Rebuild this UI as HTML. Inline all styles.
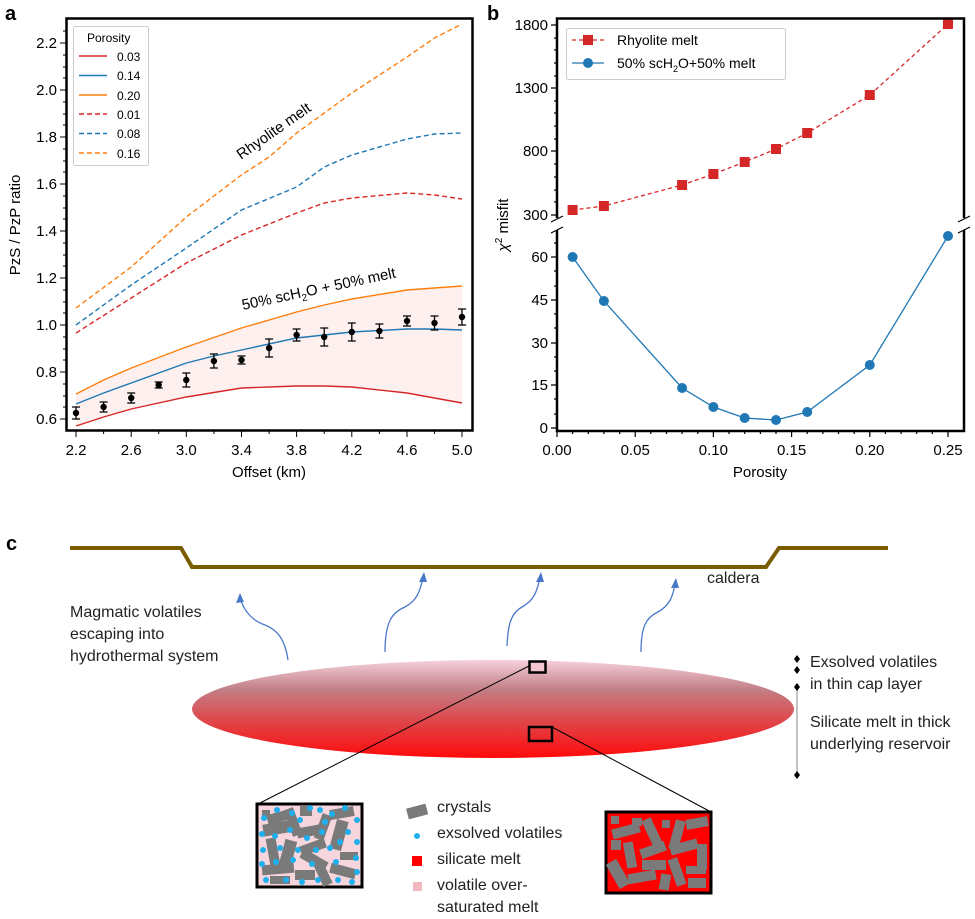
<!DOCTYPE html>
<html><head><meta charset="utf-8"><style>
body{margin:0;background:#fff}
svg{display:block;font-family:"Liberation Sans",sans-serif}
</style></head><body>
<svg width="975" height="919" viewBox="0 0 975 919" xmlns="http://www.w3.org/2000/svg">
<!-- Panel labels -->
<text x="5" y="20" font-size="20" font-weight="bold">a</text>
<text x="487" y="20" font-size="20" font-weight="bold">b</text>
<text x="6" y="550" font-size="20" font-weight="bold">c</text>

<!-- ===== Panel a ===== -->
<polygon fill="#fdf0ee" points="76,394 103.6,380 131.2,368 186.3,347 241.5,328 296.6,312 324.2,305 351.8,299 407,290 462,286 462,403 407,393 351.8,387 324.2,386 296.6,386 241.5,388 186.3,397 131.2,409 103.6,417 76,426"/>
<g fill="none" stroke-width="1.4">
<polyline stroke="#ff7f0e" stroke-dasharray="5,3" points="76,308 131.2,267 186.3,217 241.5,175 269.1,157 296.6,133 324.2,113 351.8,93 407,57 434.5,38 462,24"/>
<polyline stroke="#1f77b4" stroke-dasharray="5,3" points="76,325 131.2,285 186.3,248 241.5,210 296.6,187 324.2,167 351.8,155 407,139 434.5,134 462,133"/>
<polyline stroke="#d62728" stroke-dasharray="5,3" points="76,333 131.2,298 186.3,263 241.5,235 296.6,213 324.2,203 351.8,198 407,193 434.5,195 462,199"/>
<polyline stroke="#ff7f0e" points="76,394 103.6,380 131.2,368 186.3,347 241.5,328 296.6,312 324.2,305 351.8,299 407,290 462,286"/>
<polyline stroke="#1f77b4" points="76,404 103.6,393 131.2,383 186.3,363 213.9,356 241.5,350 296.6,338 324.2,335 351.8,332 407,329 434.5,329 462,330"/>
<polyline stroke="#d62728" points="76,426 103.6,417 131.2,409 186.3,397 241.5,388 296.6,386 324.2,386 351.8,387 407,393 462,403"/>
</g>
<g stroke="#000" stroke-width="1.3" fill="none">
<path d="M76,407v12M72,407h8M72,419h8 M103.6,402v10M99.6,402h8M99.6,412h8 M131.2,393v10M127.2,393h8M127.2,403h8 M158.7,382v6M154.7,382h8M154.7,388h8 M186.3,373v14M182.3,373h8M182.3,387h8 M213.9,354v14M209.9,354h8M209.9,368h8 M241.5,356v8M237.5,356h8M237.5,364h8 M269.1,339v18M265.1,339h8M265.1,357h8 M296.6,329v12M292.6,329h8M292.6,341h8 M324.2,328v18M320.2,328h8M320.2,346h8 M351.8,323v18M347.8,323h8M347.8,341h8 M379.4,324v14M375.4,324h8M375.4,338h8 M407,316v10M403,316h8M403,326h8 M434.5,316v14M430.5,316h8M430.5,330h8 M462,309v16M458,309h8M458,325h8"/>
</g>
<g fill="#000">
<circle cx="76" cy="413" r="3.2"/><circle cx="103.6" cy="407" r="3.2"/><circle cx="131.2" cy="398" r="3.2"/><circle cx="158.7" cy="385" r="3.2"/><circle cx="186.3" cy="380" r="3.2"/><circle cx="213.9" cy="361" r="3.2"/><circle cx="241.5" cy="360" r="3.2"/><circle cx="269.1" cy="348" r="3.2"/><circle cx="296.6" cy="335" r="3.2"/><circle cx="324.2" cy="337" r="3.2"/><circle cx="351.8" cy="332" r="3.2"/><circle cx="379.4" cy="331" r="3.2"/><circle cx="407" cy="321" r="3.2"/><circle cx="434.5" cy="323" r="3.2"/><circle cx="462" cy="317" r="3.2"/>
</g>
<text x="0" y="0" font-size="15" transform="translate(241,160) rotate(-35)">Rhyolite melt</text>
<text x="0" y="0" font-size="15" transform="translate(243,310) rotate(-12)">50% scH<tspan font-size="10" dy="4">2</tspan><tspan dy="-4">O + 50% melt</tspan></text>
<!-- legend a -->
<rect x="73.5" y="26.5" width="75" height="139" rx="2" fill="#fff" stroke="#ccc"/>
<text x="87" y="42" font-size="12">Porosity</text>
<g stroke-width="1.4">
<line x1="79" y1="56" x2="107" y2="56" stroke="#d62728"/>
<line x1="79" y1="75.5" x2="107" y2="75.5" stroke="#1f77b4"/>
<line x1="79" y1="95" x2="107" y2="95" stroke="#ff7f0e"/>
<line x1="79" y1="114" x2="107" y2="114" stroke="#d62728" stroke-dasharray="5,3"/>
<line x1="79" y1="133.5" x2="107" y2="133.5" stroke="#1f77b4" stroke-dasharray="5,3"/>
<line x1="79" y1="153" x2="107" y2="153" stroke="#ff7f0e" stroke-dasharray="5,3"/>
</g>
<g font-size="12">
<text x="117" y="61">0.03</text><text x="117" y="80">0.14</text><text x="117" y="100">0.20</text><text x="117" y="119">0.01</text><text x="117" y="138">0.08</text><text x="117" y="158">0.16</text>
</g>
<rect x="66.5" y="18.5" width="406" height="412" fill="none" stroke="#000" stroke-width="2.5"/>
<g stroke="#000" stroke-width="1">
<path d="M66,43h-6M66,90h-6M66,137h-6M66,184h-6M66,231h-6M66,278h-6M66,325h-6M66,372h-6M66,419h-6"/>
<path d="M66,31h-3M66,55h-3M66,67h-3M66,78h-3M66,102h-3M66,114h-3M66,125h-3M66,149h-3M66,161h-3M66,172h-3M66,196h-3M66,208h-3M66,219h-3M66,243h-3M66,255h-3M66,266h-3M66,290h-3M66,302h-3M66,313h-3M66,337h-3M66,349h-3M66,360h-3M66,384h-3M66,396h-3M66,407h-3"/>
<path d="M76,431v6M131.2,431v6M186.3,431v6M241.5,431v6M296.6,431v6M351.8,431v6M407,431v6M462,431v6"/>
<path d="M103.6,431v3M158.7,431v3M213.9,431v3M269.1,431v3M324.2,431v3M379.4,431v3M434.5,431v3"/>
</g>
<g font-size="15" text-anchor="end">
<text x="57" y="48">2.2</text><text x="57" y="95">2.0</text><text x="57" y="142">1.8</text><text x="57" y="189">1.6</text><text x="57" y="236">1.4</text><text x="57" y="283">1.2</text><text x="57" y="330">1.0</text><text x="57" y="377">0.8</text><text x="57" y="424">0.6</text>
</g>
<g font-size="15" text-anchor="middle">
<text x="76" y="455">2.2</text><text x="131.2" y="455">2.6</text><text x="186.3" y="455">3.0</text><text x="241.5" y="455">3.4</text><text x="296.6" y="455">3.8</text><text x="351.8" y="455">4.2</text><text x="407" y="455">4.6</text><text x="462" y="455">5.0</text>
<text x="269" y="477">Offset (km)</text>
<text transform="translate(20,225) rotate(-90)">PzS / PzP ratio</text>
</g>

<!-- ===== Panel b ===== -->
<polyline fill="none" stroke="#d62728" stroke-width="1.3" stroke-dasharray="4,3" points="572.6,210 603.9,206 682.1,185 713.4,174 744.7,162 776,149 807.2,133 869.8,95 948,24"/>
<g fill="#d62728">
<rect x="567.6" y="205" width="10" height="10"/><rect x="598.9" y="201" width="10" height="10"/><rect x="677.1" y="180" width="10" height="10"/><rect x="708.4" y="169" width="10" height="10"/><rect x="739.7" y="157" width="10" height="10"/><rect x="771" y="144" width="10" height="10"/><rect x="802.2" y="128" width="10" height="10"/><rect x="864.8" y="90" width="10" height="10"/><rect x="943" y="19" width="10" height="10"/>
</g>
<polyline fill="none" stroke="#1f77b4" stroke-width="1.3" points="572.6,257 603.9,301 682.1,388 713.4,407 744.7,418 776,420 807.2,412 869.8,365 948,236"/>
<g fill="#1f77b4">
<circle cx="572.6" cy="257" r="5"/><circle cx="603.9" cy="301" r="5"/><circle cx="682.1" cy="388" r="5"/><circle cx="713.4" cy="407" r="5"/><circle cx="744.7" cy="418" r="5"/><circle cx="776" cy="420" r="5"/><circle cx="807.2" cy="412" r="5"/><circle cx="869.8" cy="365" r="5"/><circle cx="948" cy="236" r="5"/>
</g>
<rect x="566.5" y="28.5" width="219" height="51" rx="2" fill="#fff" stroke="#ccc"/>
<line x1="572" y1="40" x2="604" y2="40" stroke="#d62728" stroke-width="1.3" stroke-dasharray="4,3"/>
<rect x="583" y="35" width="10" height="10" fill="#d62728"/>
<line x1="572" y1="63" x2="604" y2="63" stroke="#1f77b4" stroke-width="1.3"/>
<circle cx="588" cy="63" r="5" fill="#1f77b4"/>
<text x="617" y="45" font-size="14">Rhyolite melt</text>
<text x="617" y="68" font-size="14">50% scH<tspan font-size="9" dy="4">2</tspan><tspan dy="-4">O+50% melt</tspan></text>
<g stroke="#000" stroke-width="2.5" fill="none">
<path d="M557,218V18.5H964V218M557,230V431H964V230"/>
</g>
<g stroke="#000" stroke-width="1.2">
<path d="M551,222l12,-6M551,233l12,-6M958,222l12,-6M958,233l12,-6"/>
<path d="M557,25h-6M557,88h-6M557,151h-6M557,215h-6M557,257h-6M557,300h-6M557,343h-6M557,385h-6M557,428h-6"/>
<path d="M557,38h-3M557,50h-3M557,63h-3M557,76h-3M557,101h-3M557,113h-3M557,126h-3M557,139h-3M557,164h-3M557,177h-3M557,190h-3M557,202h-3M557,243h-3M557,271h-3M557,286h-3M557,314h-3M557,328h-3M557,357h-3M557,371h-3M557,399h-3M557,414h-3"/>
<path d="M557,431v6M635.2,431v6M713.4,431v6M791.6,431v6M869.8,431v6M948,431v6"/>
<path d="M572.6,431v3M588.3,431v3M603.9,431v3M619.6,431v3M650.8,431v3M666.5,431v3M682.1,431v3M697.8,431v3M729,431v3M744.7,431v3M760.4,431v3M776,431v3M807.2,431v3M822.9,431v3M838.5,431v3M854.2,431v3M885.4,431v3M901.1,431v3M916.7,431v3M932.4,431v3"/>
</g>
<g font-size="15" text-anchor="end">
<text x="548" y="30">1800</text><text x="548" y="93">1300</text><text x="548" y="156">800</text><text x="548" y="220">300</text>
<text x="548" y="262">60</text><text x="548" y="305">45</text><text x="548" y="348">30</text><text x="548" y="390">15</text><text x="548" y="433">0</text>
</g>
<g font-size="15" text-anchor="middle">
<text x="557" y="455">0.00</text><text x="635.2" y="455">0.05</text><text x="713.4" y="455">0.10</text><text x="791.6" y="455">0.15</text><text x="869.8" y="455">0.20</text><text x="948" y="455">0.25</text>
<text x="760" y="477">Porosity</text>
<text transform="translate(508,225) rotate(-90)"><tspan font-style="italic">χ</tspan><tspan font-size="10" dy="-6">2</tspan><tspan dy="6"> misfit</tspan></text>
</g>

<!-- ===== Panel c ===== -->
<defs>
<linearGradient id="g" x1="0" y1="0" x2="0" y2="1">
<stop offset="0" stop-color="#f6d0dc"/>
<stop offset="0.3" stop-color="#c27f86"/>
<stop offset="0.6" stop-color="#dd4a4e"/>
<stop offset="1" stop-color="#ff0a0a"/>
</linearGradient>
</defs>
<polyline fill="none" stroke="#7a5c00" stroke-width="4" points="70,548 181,548 192,567 766,567 779,548 888,548"/>
<text x="707" y="583" font-size="16" fill="#222">caldera</text>
<g font-size="16" fill="#222">
<text x="70" y="617">Magmatic volatiles</text>
<text x="70" y="639">escaping into</text>
<text x="70" y="661">hydrothermal system</text>
<text x="810" y="667">Exsolved volatiles</text>
<text x="810" y="689">in thin cap layer</text>
<text x="810" y="727">Silicate melt in thick</text>
<text x="810" y="749">underlying reservoir</text>
</g>
<g fill="none" stroke="#4a78c8" stroke-width="1.3">
<path d="M288,660 C285,640 278,630 265,625 C250,620 243,608 240,598"/>
<path d="M385,652 C385,620 393,612 405,607 C418,600 420,590 423,578"/>
<path d="M507,646 C508,620 513,612 522,607 C535,600 537,590 540,578"/>
<path d="M641,652 C641,625 647,618 656,613 C670,606 673,596 675,584"/>
</g>
<g fill="#4a78c8">
<path d="M240,593 l-4,10 l8,-1z"/><path d="M424,572 l-5,10 l8,0z"/><path d="M541,572 l-5,10 l8,0z"/><path d="M676,578 l-5,10 l8,0z"/>
</g>
<ellipse cx="493" cy="709" rx="301" ry="49" fill="url(#g)"/>
<g stroke="#999" stroke-width="1.2"><line x1="797" y1="687" x2="797" y2="775"/></g>
<g fill="#000"><path d="M797,655l3,4l-3,4l-3,-4z M797,666l3,4l-3,4l-3,-4z M797,683l3,4l-3,4l-3,-4z M797,771l3,4l-3,4l-3,-4z"/></g>
<g stroke="#000" stroke-width="1"><line x1="529" y1="666" x2="258" y2="804"/><line x1="552" y1="727" x2="711" y2="812"/></g>
<rect x="529.5" y="661.5" width="16" height="11" fill="#f3c8d2" stroke="#000" stroke-width="2.5"/>
<rect x="529" y="727" width="23" height="14" fill="none" stroke="#000" stroke-width="2.5"/>
<!-- left inset -->
<rect x="257" y="804" width="105" height="83" fill="#f6d6dc" stroke="#000" stroke-width="3"/>
<g fill="#7a7a7a">
<rect x="262" y="810" width="8" height="6"/>
<rect x="267" y="812" width="24" height="10" transform="rotate(-15 279 817)"/>
<rect x="263" y="822" width="32" height="12" transform="rotate(-10 279 828)"/>
<rect x="288" y="808" width="10" height="28" transform="rotate(-20 293 822)"/>
<rect x="300" y="806" width="12" height="10"/>
<rect x="318" y="814" width="10" height="26" transform="rotate(20 323 827)"/>
<rect x="330" y="808" width="24" height="10" transform="rotate(-10 342 813)"/>
<rect x="333" y="820" width="12" height="30" transform="rotate(15 339 835)"/>
<rect x="297" y="826" width="28" height="10" transform="rotate(-10 311 831)"/>
<rect x="268" y="838" width="10" height="28" transform="rotate(-10 273 852)"/>
<rect x="282" y="840" width="12" height="26" transform="rotate(15 288 853)"/>
<rect x="300" y="842" width="26" height="10" transform="rotate(-20 313 847)"/>
<rect x="340" y="852" width="18" height="8"/>
<rect x="262" y="864" width="32" height="10" transform="rotate(-5 278 869)"/>
<rect x="300" y="855" width="28" height="10" transform="rotate(30 314 860)"/>
<rect x="318" y="862" width="10" height="24" transform="rotate(-25 323 874)"/>
<rect x="330" y="866" width="26" height="10" transform="rotate(15 343 871)"/>
<rect x="270" y="876" width="20" height="8"/>
<rect x="295" y="870" width="20" height="10"/>
</g>
<g fill="#1eb0ee">
<circle cx="264" cy="818" r="3"/><circle cx="277" cy="810" r="3"/><circle cx="292" cy="813" r="3"/><circle cx="310" cy="808" r="3"/><circle cx="320" cy="810" r="3"/><circle cx="332" cy="814" r="3"/><circle cx="345" cy="808" r="3"/><circle cx="357" cy="820" r="3"/><circle cx="262" cy="834" r="3"/><circle cx="275" cy="836" r="3"/><circle cx="300" cy="820" r="3"/><circle cx="307" cy="838" r="3"/><circle cx="322" cy="832" r="3"/><circle cx="348" cy="832" r="3"/><circle cx="357" cy="842" r="3"/><circle cx="263" cy="850" r="3"/><circle cx="280" cy="848" r="3"/><circle cx="298" cy="850" r="3"/><circle cx="316" cy="850" r="3"/><circle cx="330" cy="848" r="3"/><circle cx="356" cy="858" r="3"/><circle cx="262" cy="864" r="3"/><circle cx="276" cy="862" r="3"/><circle cx="293" cy="860" r="3"/><circle cx="312" cy="864" r="3"/><circle cx="336" cy="862" r="3"/><circle cx="357" cy="872" r="3"/><circle cx="266" cy="880" r="3"/><circle cx="286" cy="880" r="3"/><circle cx="302" cy="882" r="3"/><circle cx="318" cy="880" r="3"/><circle cx="338" cy="880" r="3"/><circle cx="352" cy="882" r="3"/><circle cx="290" cy="830" r="3"/><circle cx="325" cy="822" r="3"/><circle cx="340" cy="842" r="3"/>
</g>
<!-- right inset -->
<rect x="606" y="812" width="105" height="81" fill="#ff0000" stroke="#000" stroke-width="3"/>
<g fill="#7a7a7a">
<rect x="611" y="816" width="8" height="8"/>
<rect x="612" y="826" width="28" height="10" transform="rotate(-15 626 831)"/>
<rect x="632" y="818" width="10" height="8"/>
<rect x="647" y="818" width="10" height="28" transform="rotate(-25 652 832)"/>
<rect x="662" y="820" width="8" height="8"/>
<rect x="672" y="820" width="10" height="30" transform="rotate(15 677 835)"/>
<rect x="686" y="818" width="22" height="10" transform="rotate(-10 697 823)"/>
<rect x="611" y="840" width="10" height="10"/>
<rect x="625" y="842" width="10" height="26" transform="rotate(-10 630 855)"/>
<rect x="640" y="845" width="26" height="10" transform="rotate(-20 653 850)"/>
<rect x="670" y="842" width="28" height="10" transform="rotate(-15 684 847)"/>
<rect x="697" y="844" width="10" height="26"/>
<rect x="612" y="860" width="12" height="28" transform="rotate(-30 618 874)"/>
<rect x="642" y="860" width="24" height="10"/>
<rect x="672" y="858" width="10" height="28" transform="rotate(-20 677 872)"/>
<rect x="686" y="866" width="20" height="8"/>
<rect x="628" y="872" width="28" height="10" transform="rotate(-10 642 877)"/>
<rect x="660" y="874" width="10" height="16" transform="rotate(10 665 882)"/>
<rect x="688" y="878" width="18" height="10"/>
</g>
<!-- legend c -->
<rect x="407" y="806" width="20" height="11" fill="#7a7a7a" transform="rotate(-15 417 811)"/>
<circle cx="417" cy="836" r="3" fill="#1eb0ee"/>
<rect x="412" y="856" width="10" height="10" fill="#f00"/>
<rect x="413" y="882" width="9" height="9" fill="#f0b8be"/>
<g font-size="16" fill="#222">
<text x="437" y="812">crystals</text>
<text x="437" y="838">exsolved volatiles</text>
<text x="437" y="864">silicate melt</text>
<text x="437" y="890">volatile over-</text>
<text x="437" y="912">saturated melt</text>
</g>
</svg>
</body></html>
